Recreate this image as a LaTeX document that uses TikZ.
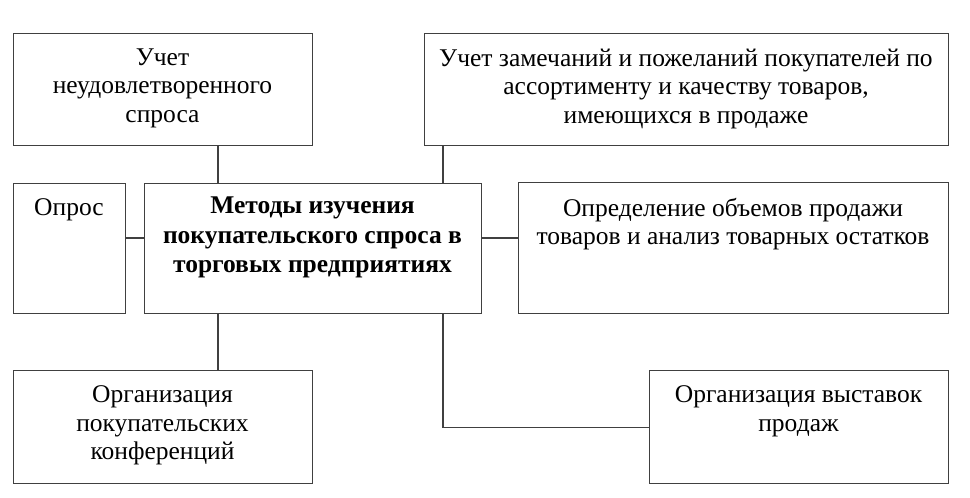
\documentclass[tikz,border=0pt]{standalone}
\usepackage{fontspec}
\setmainfont{Liberation Serif}
\begin{document}
\begin{tikzpicture}[x=1pt,y=-1pt,
  box/.style={draw=black!75, line width=1.4pt, rectangle, inner sep=0pt, anchor=north west},
  txt/.style={anchor=north, inner sep=0pt, align=center, font=\fontsize{25.5}{28.5}\selectfont, text=black},
  btxt/.style={txt, font=\fontsize{25.5}{29.5}\selectfont\bfseries},
  conn/.style={draw=black!75, line width=1.4pt}]
\useasboundingbox (0,0) rectangle (970,498);
% boxes
\node[box, minimum width=299pt, minimum height=112pt] (a) at (13,33) {};
\node[box, minimum width=524pt, minimum height=112pt] (b) at (424,33) {};
\node[box, minimum width=112pt, minimum height=130pt] (c) at (13,183) {};
\node[box, minimum width=337pt, minimum height=130pt] (d) at (144,183) {};
\node[box, minimum width=430pt, minimum height=131pt] (e) at (518,182) {};
\node[box, minimum width=299pt, minimum height=113pt] (f) at (13,370) {};
\node[box, minimum width=299pt, minimum height=113pt] (g) at (649,370) {};
% texts
\node[txt] (ta) at (162.5,48.5) {Учет\\неудовлетворенного\\спроса};
\node[txt] (tb) at (686,48.5) {Учет замечаний и пожеланий покупателей по\\ассортименту и качеству товаров,\\имеющихся в продаже};
\node[txt] (tc) at (69,198) {Опрос};
\node[btxt] (td) at (312.5,197) {Методы изучения\\покупательского спроса в\\торговых предприятиях};
\node[txt] (te) at (733,198) {Определение объемов продажи\\товаров и анализ товарных остатков};
\node[txt] (tf) at (162.5,385.5) {Организация\\покупательских\\конференций};
\node[txt] (tg) at (798.5,385.5) {Организация выставок\\продаж};
% connector guides
\coordinate (cl) at (218,0);
\coordinate (cr) at (443,0);
\coordinate (mid) at (0,238);
% connectors
\draw[conn] (a.south -| cl) -- (d.north -| cl);
\draw[conn] (b.south -| cr) -- (d.north -| cr);
\draw[conn] (c.east |- mid) -- (d.west |- mid);
\draw[conn] (d.east |- mid) -- (e.west |- mid);
\draw[conn] (d.south -| cl) -- (f.north -| cl);
\draw[conn] (d.south -| cr) |- (g.west);
\end{tikzpicture}
\end{document}
